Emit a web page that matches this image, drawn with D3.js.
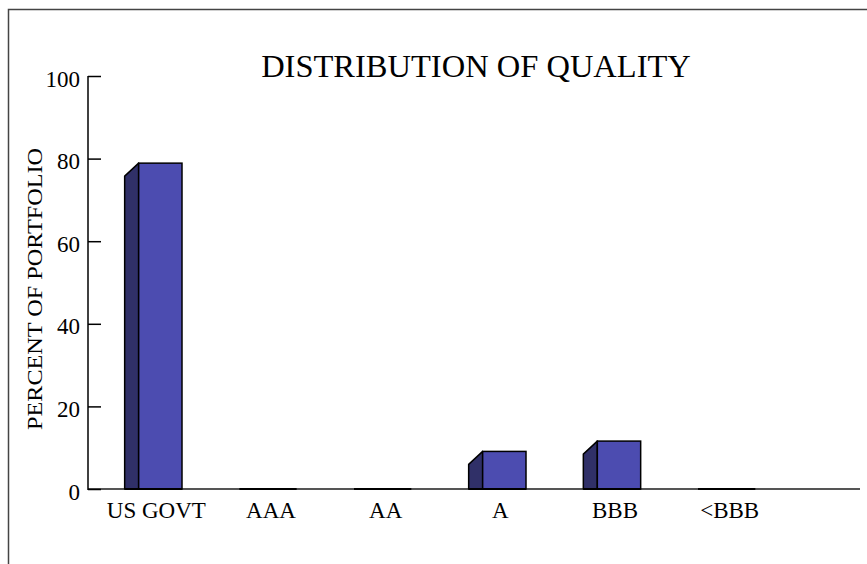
<!DOCTYPE html>
<html>
<head>
	<script src="https://d3js.org/d3.v7.min.js"></script>
	<style>
		body { margin:0; background:#fff; }
		text { font-family: "Liberation Serif", "Times New Roman", serif; fill:#000; }
	</style>
</head>
<body>
<script>
	// data
	var categories = ["US GOVT", "AAA", "AA", "A", "BBB", "<BBB"];
	var percents = [78.9, 0, 0, 9.1, 11.6, 0];
	var yTicks = [0, 20, 40, 60, 80, 100];

	var w = 867, h = 564;
	var svg = d3.select("body").append("svg")
		.attr("width", w)
		.attr("height", h);

	// outer frame (runs off the right and bottom edges)
	svg.append("rect")
		.attr("x", 8.5).attr("y", 9.5)
		.attr("width", 900).attr("height", 600)
		.style("fill", "none")
		.style("stroke", "#444")
		.style("stroke-width", 1.5);

	var xScale = d3.scaleBand()
		.domain(categories)
		.range([96, 784])
		.paddingInner(0.5)
		.paddingOuter(0.25);
	var yScale = d3.scaleLinear()
		.domain([0, 100])
		.range([489, 76]);

	var depthX = 14, depthY = 13;
	var frontCol = "#4c4cb0", sideCol = "#303068";

	// baseline
	svg.append("line")
		.attr("x1", 88).attr("x2", 860)
		.attr("y1", yScale(0)).attr("y2", yScale(0))
		.style("stroke", "#555")
		.style("stroke-width", 2);

	// y axis
	var yAxis = d3.axisRight(yScale).tickValues(yTicks).tickSize(13).tickFormat("");
	var gy = svg.append("g")
		.attr("transform", "translate(88,0)")
		.call(yAxis);
	gy.select(".domain").remove();
	gy.selectAll(".tick line").style("stroke", "#000").style("stroke-width", 1.5);
	svg.append("line")
		.attr("x1", 88).attr("x2", 88)
		.attr("y1", yScale(100)).attr("y2", yScale(0) + 1)
		.style("stroke", "#000")
		.style("stroke-width", 1.5);

	svg.selectAll(".ylab")
		.data(yTicks)
		.enter().append("text")
		.attr("x", 80)
		.attr("y", function(d){ return yScale(d) + 10.5; })
		.attr("text-anchor", "end")
		.style("font-size", "23px")
		.text(function(d){ return d; });

	// bars
	categories.forEach(function(c, i) {
		var x0 = xScale(c);
		var bw = xScale.bandwidth();
		var base = yScale(0);
		var top = yScale(percents[i]);
		if (percents[i] > 0) {
			svg.append("polygon")
				.attr("points", [
					[x0, base], [x0, top + depthY], [x0 + depthX, top], [x0 + depthX, base]
				].map(function(p){ return p.join(","); }).join(" "))
				.style("fill", sideCol)
				.style("stroke", "#000")
				.style("stroke-width", 1.5)
				.style("stroke-linejoin", "round");
			svg.append("rect")
				.attr("x", x0 + depthX)
				.attr("y", top)
				.attr("width", bw - depthX)
				.attr("height", base - top)
				.style("fill", frontCol)
				.style("stroke", "#000")
				.style("stroke-width", 1.5);
		}
		svg.append("line")
			.attr("x1", x0).attr("x2", x0 + bw)
			.attr("y1", base).attr("y2", base)
			.style("stroke", "#000")
			.style("stroke-width", 2);
	});

	// category labels
	svg.selectAll(".xlab")
		.data(categories)
		.enter().append("text")
		.attr("x", function(d){ return xScale(d) + xScale.bandwidth() / 2 + 3; })
		.attr("y", 518)
		.attr("text-anchor", "middle")
		.style("font-size", "23px")
		.text(function(d){ return d; });

	// title
	svg.append("text")
		.attr("x", 476)
		.attr("y", 77)
		.attr("text-anchor", "middle")
		.style("font-size", "32.5px")
		.text("DISTRIBUTION OF QUALITY");

	// y label
	svg.append("text")
		.attr("transform", "translate(42,289) rotate(-90)")
		.attr("text-anchor", "middle")
		.attr("textLength", 282)
		.attr("lengthAdjust", "spacingAndGlyphs")
		.style("font-size", "21px")
		.text("PERCENT OF PORTFOLIO");
</script>
</body>
</html>
